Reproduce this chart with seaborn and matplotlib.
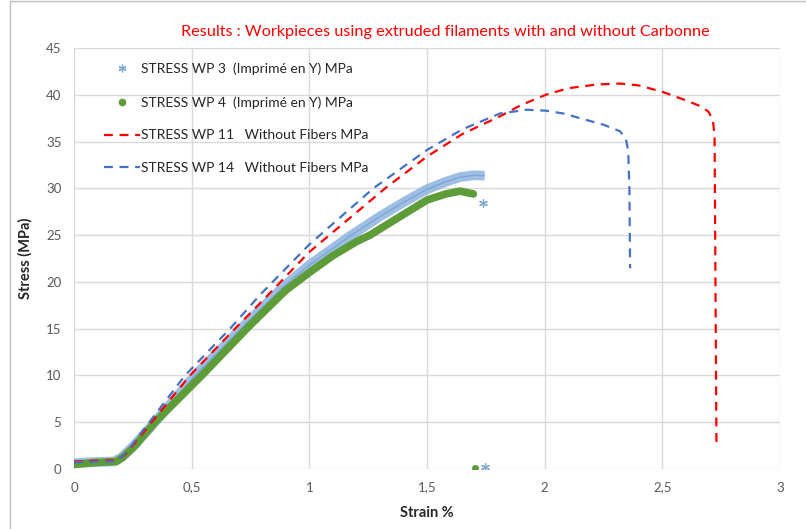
import matplotlib
matplotlib.use("Agg")
import matplotlib.pyplot as plt
from matplotlib.lines import Line2D
from matplotlib.ticker import FuncFormatter, MultipleLocator
import pandas as pd
import seaborn as sns

# values (strain %, stress MPa)
wp3_strain = [0.0, 0.05, 0.10, 0.17, 0.20, 0.25, 0.33, 0.514, 0.71, 0.79, 0.89, 1.0, 1.173, 1.30, 1.40, 1.50, 1.58, 1.64, 1.70, 1.745]
wp3_stress = [0.6, 0.7, 0.75, 0.8, 1.2, 2.4, 4.6, 10.0, 15.0, 17.0, 19.5, 21.8, 24.9, 27.0, 28.5, 29.9, 30.7, 31.2, 31.4, 31.35]
wp3_tail_strain = [1.737, 1.748]
wp3_tail_stress = [28.4, 0.2]

wp4_strain = [0.0, 0.05, 0.10, 0.18, 0.21, 0.26, 0.344, 0.543, 0.734, 0.79, 0.90, 1.0, 1.10, 1.20, 1.258, 1.38, 1.50, 1.58, 1.64, 1.697]
wp4_stress = [0.5, 0.6, 0.7, 0.8, 1.3, 2.5, 5.0, 10.0, 15.0, 16.4, 19.1, 21.0, 22.8, 24.3, 25.0, 26.9, 28.75, 29.4, 29.7, 29.4]
wp4_tail_strain = [1.703]
wp4_tail_stress = [0.1]

wp11_strain = [0.0, 0.10, 0.18, 0.22, 0.33, 0.493, 0.684, 0.79, 1.0, 1.322, 1.50, 1.65, 1.81, 1.90, 2.005, 2.10, 2.221, 2.32, 2.40, 2.502, 2.60, 2.66, 2.696, 2.715, 2.722, 2.73]
wp11_stress = [0.8, 0.9, 0.9, 1.6, 5.0, 10.0, 15.0, 17.7, 23.2, 30.0, 33.4, 35.8, 37.7, 38.9, 40.0, 40.7, 41.1, 41.2, 41.0, 40.3, 39.4, 38.8, 38.2, 37.3, 35.5, 2.6]

wp14_strain = [0.0, 0.10, 0.18, 0.22, 0.32, 0.472, 0.663, 0.79, 1.0, 1.272, 1.50, 1.65, 1.81, 1.924, 2.005, 2.08, 2.15, 2.25, 2.32, 2.345, 2.355, 2.36, 2.363]
wp14_stress = [0.7, 0.8, 0.8, 1.7, 5.0, 10.0, 15.0, 18.6, 24.0, 30.0, 34.1, 36.3, 38.0, 38.4, 38.3, 38.0, 37.5, 36.8, 36.1, 35.3, 34.0, 30.0, 21.45]

labels = ["STRESS WP 3  (Imprimé en Y) MPa",
          "STRESS WP 4  (Imprimé en Y) MPa",
          "STRESS WP 11   Without Fibers MPa",
          "STRESS WP 14   Without Fibers MPa"]

c_wp3 = "#8DB4DE"
c_wp4 = "#5E9C3A"
c_wp11 = "#FF0000"
c_wp14 = "#4472C4"
asterisk = (6, 2, 0)
dash = (0, (4, 3))

sns.set_theme(style="white")
plt.rcParams["font.family"] = ["Lato", "DejaVu Sans"]

fig = plt.figure(figsize=(8.06, 5.29), dpi=100)
ax = fig.add_axes([74 / 806, 1 - 469 / 529, (780 - 74) / 806, (469 - 48) / 529])

df3 = pd.DataFrame({"x": wp3_strain, "y": wp3_stress})
df4 = pd.DataFrame({"x": wp4_strain, "y": wp4_stress})
df11 = pd.DataFrame({"x": wp11_strain, "y": wp11_stress})
df14 = pd.DataFrame({"x": wp14_strain, "y": wp14_stress})

# dense marker bands for WP3 / WP4
sns.lineplot(data=df3, x="x", y="y", ax=ax, sort=False, color=c_wp3, lw=7, alpha=0.85,
             solid_capstyle="butt", solid_joinstyle="round", legend=False)
sns.lineplot(data=df3, x="x", y="y", ax=ax, sort=False, color="#5B8FC9", lw=1.0, alpha=0.5,
             solid_joinstyle="round", legend=False)
sns.lineplot(data=df4, x="x", y="y", ax=ax, sort=False, color=c_wp4, lw=5.5,
             solid_capstyle="round", solid_joinstyle="round", legend=False)
sns.scatterplot(x=wp3_tail_strain, y=wp3_tail_stress, ax=ax, marker=asterisk, s=32,
                color="#7BA7D6", linewidth=0.9)
sns.scatterplot(x=wp4_tail_strain, y=wp4_tail_stress, ax=ax, marker="o", s=22,
                color=c_wp4, edgecolor=c_wp4)

sns.lineplot(data=df11, x="x", y="y", ax=ax, sort=False, color=c_wp11, lw=1.6,
             legend=False, linestyle=dash)
sns.lineplot(data=df14, x="x", y="y", ax=ax, sort=False, color=c_wp14, lw=1.6,
             legend=False, linestyle=dash)

ax.set_xlim(0, 3)
ax.set_ylim(0, 45)
ax.xaxis.set_major_locator(MultipleLocator(0.5))
ax.yaxis.set_major_locator(MultipleLocator(5))
ax.xaxis.set_major_formatter(FuncFormatter(lambda v, p: f"{v:g}".replace(".", ",")))
ax.grid(True, color="#D9D9D9", lw=1)
ax.set_axisbelow(True)
for s in ax.spines.values():
    s.set_visible(False)
ax.tick_params(axis="both", length=0, labelsize=9.5, labelcolor="#595959", pad=9)

ax.set_xlabel("Strain %", fontsize=10.5, fontweight="bold", color="#262626", labelpad=9)
ax.set_ylabel("Stress (MPa)", fontsize=10.5, fontweight="bold", color="#262626", labelpad=10)

fig.text(445 / 806, 1 - 32 / 529, "Results : Workpieces using extruded filaments with and without Carbonne",
         color="#FF0000", fontsize=11.7, ha="center", va="center")

handles = [
    Line2D([], [], ls="none", marker=asterisk, color="#7BA7D6", ms=5.5, mew=0.9),
    Line2D([], [], ls="none", marker="o", color=c_wp4, ms=4.5),
    Line2D([], [], color=c_wp11, lw=1.6, ls=dash),
    Line2D([], [], color=c_wp14, lw=1.6, ls=dash),
]
ax.legend(handles, labels, loc="upper left", bbox_to_anchor=(0.025, 0.995), frameon=False,
          fontsize=10, labelspacing=1.5, handlelength=2.6, handletextpad=0.05,
          labelcolor="#262626")

# chart frame (only top and left edges are visible in the crop)
fig.add_artist(Line2D([10 / 806, 10 / 806], [0, 1 - 1 / 529], transform=fig.transFigure,
                      color="#BFBFBF", lw=1))
fig.add_artist(Line2D([10 / 806, 1], [1 - 1 / 529, 1 - 1 / 529], transform=fig.transFigure,
                      color="#BFBFBF", lw=1))

fig.savefig("out.png", dpi=100)
